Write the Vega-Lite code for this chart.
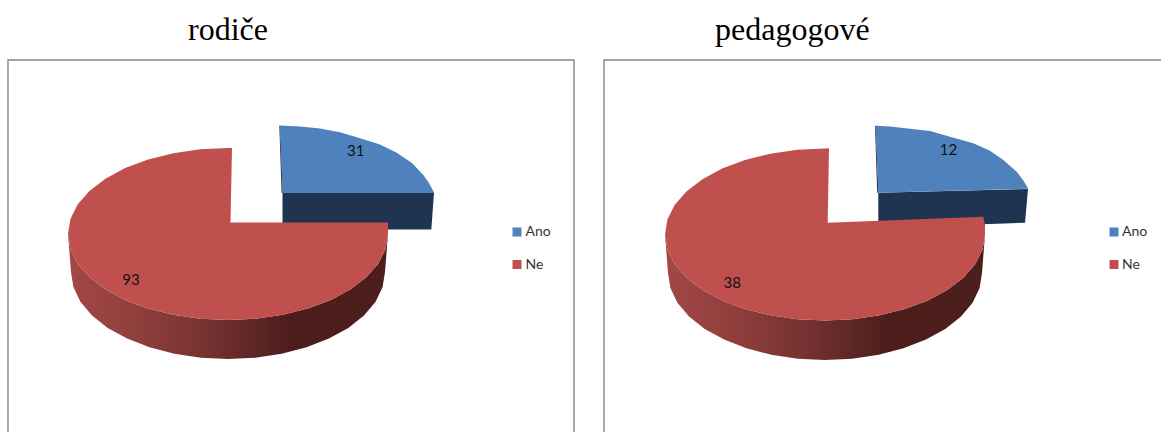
{"$schema":"https://vega.github.io/schema/vega-lite/v6.json","width":1161,"height":432,"padding":0,"autosize":{"type":"none"},"background":"white","view":{"stroke":null},
"datasets":{
"frame":[{"p":"rodiče","x":8,"y":432},{"p":"rodiče","x":8,"y":60},{"p":"rodiče","x":574,"y":60},{"p":"rodiče","x":574,"y":432},{"p":"pedagogové","x":604,"y":432},{"p":"pedagogové","x":604,"y":60},{"p":"pedagogové","x":1161,"y":60}],
"blueWall":[{"p":"rodiče","x":282.5,"y":193},{"p":"rodiče","x":434,"y":193},{"p":"rodiče","x":431.3,"y":229.5},{"p":"rodiče","x":282.5,"y":229.5},{"p":"pedagogové","x":878.3,"y":192.7},{"p":"pedagogové","x":1028,"y":189},{"p":"pedagogové","x":1025,"y":222.7},{"p":"pedagogové","x":878.3,"y":228}],
"blueTop":[{"p":"rodiče","x":282.7,"y":193},{"p":"rodiče","x":280,"y":125.5},{"p":"rodiče","x":300,"y":126.5},{"p":"rodiče","x":320,"y":128.5},{"p":"rodiče","x":340,"y":132.3},{"p":"rodiče","x":360,"y":138.3},{"p":"rodiče","x":380,"y":144.5},{"p":"rodiče","x":396.7,"y":152.7},{"p":"rodiče","x":411.7,"y":162.7},{"p":"rodiče","x":423.3,"y":175},{"p":"rodiče","x":429,"y":183},{"p":"rodiče","x":434.3,"y":193},
{"p":"pedagogové","x":878.3,"y":192.7},{"p":"pedagogové","x":875.7,"y":125.7},{"p":"pedagogové","x":890,"y":126.5},{"p":"pedagogové","x":910,"y":128.8},{"p":"pedagogové","x":930,"y":131},{"p":"pedagogové","x":950,"y":136.7},{"p":"pedagogové","x":973.3,"y":143.3},{"p":"pedagogové","x":990,"y":150.7},{"p":"pedagogové","x":1003.3,"y":160},{"p":"pedagogové","x":1016.7,"y":171.7},{"p":"pedagogové","x":1023,"y":180},{"p":"pedagogové","x":1028.3,"y":188.7}],
"sliver":[{"p":"rodiče","x":280,"y":125.5},{"p":"rodiče","x":282.7,"y":193},{"p":"rodiče","x":281.6,"y":193},{"p":"rodiče","x":279.3,"y":125.5},{"p":"pedagogové","x":875.7,"y":125.7},{"p":"pedagogové","x":878.3,"y":192.7},{"p":"pedagogové","x":877.2,"y":192.7},{"p":"pedagogové","x":875,"y":125.7}],
"redWall":[{"p":"rodiče","x":388,"y":234},{"p":"rodiče","x":385.6,"y":248.9},{"p":"rodiče","x":378.4,"y":263.4},{"p":"rodiče","x":366.6,"y":277},{"p":"rodiče","x":350.6,"y":289.3},{"p":"rodiče","x":330.9,"y":299.9},{"p":"rodiče","x":308,"y":308.5},{"p":"rodiče","x":282.7,"y":314.8},{"p":"rodiče","x":255.8,"y":318.7},{"p":"rodiče","x":228,"y":320},{"p":"rodiče","x":200.2,"y":318.7},{"p":"rodiče","x":173.3,"y":314.8},{"p":"rodiče","x":148,"y":308.5},{"p":"rodiče","x":125.1,"y":299.9},{"p":"rodiče","x":105.4,"y":289.3},{"p":"rodiče","x":89.4,"y":277},{"p":"rodiče","x":77.6,"y":263.4},{"p":"rodiče","x":70.4,"y":248.9},{"p":"rodiče","x":68,"y":234},
{"p":"rodiče","x":71,"y":272},{"p":"rodiče","x":73.4,"y":287.1},{"p":"rodiče","x":80.4,"y":301.8},{"p":"rodiče","x":92,"y":315.5},{"p":"rodiče","x":107.7,"y":327.9},{"p":"rodiče","x":127.1,"y":338.6},{"p":"rodiče","x":149.5,"y":347.3},{"p":"rodiče","x":174.3,"y":353.8},{"p":"rodiče","x":200.7,"y":357.7},{"p":"rodiče","x":228,"y":359},{"p":"rodiče","x":255.3,"y":357.7},{"p":"rodiče","x":281.7,"y":353.8},{"p":"rodiče","x":306.5,"y":347.3},{"p":"rodiče","x":328.9,"y":338.6},{"p":"rodiče","x":348.3,"y":327.9},{"p":"rodiče","x":364,"y":315.5},{"p":"rodiče","x":375.6,"y":301.8},{"p":"rodiče","x":382.6,"y":287.1},{"p":"rodiče","x":385,"y":272},
{"p":"pedagogové","x":985,"y":234.5},{"p":"pedagogové","x":982.6,"y":249.4},{"p":"pedagogové","x":975.4,"y":263.9},{"p":"pedagogové","x":963.6,"y":277.5},{"p":"pedagogové","x":947.6,"y":289.8},{"p":"pedagogové","x":927.9,"y":300.4},{"p":"pedagogové","x":905,"y":309},{"p":"pedagogové","x":879.7,"y":315.3},{"p":"pedagogové","x":852.8,"y":319.2},{"p":"pedagogové","x":825,"y":320.5},{"p":"pedagogové","x":797.2,"y":319.2},{"p":"pedagogové","x":770.3,"y":315.3},{"p":"pedagogové","x":745,"y":309},{"p":"pedagogové","x":722.1,"y":300.4},{"p":"pedagogové","x":702.4,"y":289.8},{"p":"pedagogové","x":686.4,"y":277.5},{"p":"pedagogové","x":674.6,"y":263.9},{"p":"pedagogové","x":667.4,"y":249.4},{"p":"pedagogové","x":665,"y":234.5},
{"p":"pedagogové","x":668,"y":273},{"p":"pedagogové","x":670.4,"y":288.1},{"p":"pedagogové","x":677.4,"y":302.8},{"p":"pedagogové","x":689,"y":316.5},{"p":"pedagogové","x":704.7,"y":328.9},{"p":"pedagogové","x":724.1,"y":339.6},{"p":"pedagogové","x":746.5,"y":348.3},{"p":"pedagogové","x":771.3,"y":354.8},{"p":"pedagogové","x":797.7,"y":358.7},{"p":"pedagogové","x":825,"y":360},{"p":"pedagogové","x":852.3,"y":358.7},{"p":"pedagogové","x":878.7,"y":354.8},{"p":"pedagogové","x":903.5,"y":348.3},{"p":"pedagogové","x":925.9,"y":339.6},{"p":"pedagogové","x":945.3,"y":328.9},{"p":"pedagogové","x":961,"y":316.5},{"p":"pedagogové","x":972.6,"y":302.8},{"p":"pedagogové","x":979.6,"y":288.1},{"p":"pedagogové","x":982,"y":273}],
"redTop":[{"p":"rodiče","x":230.5,"y":222.5},{"p":"rodiče","x":388,"y":222.5},{"p":"rodiče","x":388,"y":234},{"p":"rodiče","x":385.6,"y":248.9},{"p":"rodiče","x":378.4,"y":263.4},{"p":"rodiče","x":366.6,"y":277},{"p":"rodiče","x":350.6,"y":289.3},{"p":"rodiče","x":330.9,"y":299.9},{"p":"rodiče","x":308,"y":308.5},{"p":"rodiče","x":282.7,"y":314.8},{"p":"rodiče","x":255.8,"y":318.7},{"p":"rodiče","x":228,"y":320},{"p":"rodiče","x":200.2,"y":318.7},{"p":"rodiče","x":173.3,"y":314.8},{"p":"rodiče","x":148,"y":308.5},{"p":"rodiče","x":125.1,"y":299.9},{"p":"rodiče","x":105.4,"y":289.3},{"p":"rodiče","x":89.4,"y":277},{"p":"rodiče","x":77.6,"y":263.4},{"p":"rodiče","x":70.4,"y":248.9},{"p":"rodiče","x":68,"y":234},{"p":"rodiče","x":70.4,"y":219.1},{"p":"rodiče","x":77.6,"y":204.6},{"p":"rodiče","x":89.4,"y":191},{"p":"rodiče","x":105.4,"y":178.7},{"p":"rodiče","x":125.1,"y":168.1},{"p":"rodiče","x":148,"y":159.5},{"p":"rodiče","x":173.3,"y":153.2},{"p":"rodiče","x":200.2,"y":149.3},{"p":"rodiče","x":228,"y":148},{"p":"rodiče","x":232,"y":148},
{"p":"pedagogové","x":827.7,"y":222.7},{"p":"pedagogové","x":983.3,"y":216.7},{"p":"pedagogové","x":985,"y":225},{"p":"pedagogové","x":985,"y":234.5},{"p":"pedagogové","x":982.6,"y":249.4},{"p":"pedagogové","x":975.4,"y":263.9},{"p":"pedagogové","x":963.6,"y":277.5},{"p":"pedagogové","x":947.6,"y":289.8},{"p":"pedagogové","x":927.9,"y":300.4},{"p":"pedagogové","x":905,"y":309},{"p":"pedagogové","x":879.7,"y":315.3},{"p":"pedagogové","x":852.8,"y":319.2},{"p":"pedagogové","x":825,"y":320.5},{"p":"pedagogové","x":797.2,"y":319.2},{"p":"pedagogové","x":770.3,"y":315.3},{"p":"pedagogové","x":745,"y":309},{"p":"pedagogové","x":722.1,"y":300.4},{"p":"pedagogové","x":702.4,"y":289.8},{"p":"pedagogové","x":686.4,"y":277.5},{"p":"pedagogové","x":674.6,"y":263.9},{"p":"pedagogové","x":667.4,"y":249.4},{"p":"pedagogové","x":665,"y":234.5},{"p":"pedagogové","x":667.4,"y":219.6},{"p":"pedagogové","x":674.6,"y":205.1},{"p":"pedagogové","x":686.4,"y":191.5},{"p":"pedagogové","x":702.4,"y":179.2},{"p":"pedagogové","x":722.1,"y":168.6},{"p":"pedagogové","x":745,"y":160},{"p":"pedagogové","x":770.3,"y":153.7},{"p":"pedagogové","x":797.2,"y":149.8},{"p":"pedagogové","x":825,"y":148.5},{"p":"pedagogové","x":829,"y":148.3}],
"values":[{"p":"rodiče","answer":"Ano","value":31,"x":355.7,"y":151},{"p":"rodiče","answer":"Ne","value":93,"x":131,"y":280},{"p":"pedagogové","answer":"Ano","value":12,"x":948.5,"y":150},{"p":"pedagogové","answer":"Ne","value":38,"x":732.3,"y":283}],
"legend":[{"p":"rodiče","answer":"Ano","x":517,"y":232,"tx":525.5},{"p":"rodiče","answer":"Ne","x":517,"y":264.5,"tx":525.5},{"p":"pedagogové","answer":"Ano","x":1114,"y":232,"tx":1122},{"p":"pedagogové","answer":"Ne","x":1114,"y":264.5,"tx":1122}],
"titles":[{"p":"rodiče","x":188,"y":40},{"p":"pedagogové","x":715,"y":40}]
},
"encoding":{
"x":{"field":"x","type":"quantitative","scale":{"domain":[0,1161],"nice":false,"zero":false},"axis":null},
"y":{"field":"y","type":"quantitative","scale":{"domain":[432,0],"nice":false,"zero":false},"axis":null}
},
"layer":[
{"data":{"name":"frame"},"transform":[{"window":[{"op":"row_number","as":"i"}],"groupby":["p"]}],"mark":{"type":"line","stroke":"#868686","strokeWidth":1.4,"clip":true},"encoding":{"detail":{"field":"p"},"order":{"field":"i","type":"quantitative"}}},
{"data":{"name":"blueWall"},"transform":[{"window":[{"op":"row_number","as":"i"}],"groupby":["p"]}],"mark":{"type":"line","fill":"#1f3450","strokeWidth":0},"encoding":{"detail":{"field":"p"},"order":{"field":"i","type":"quantitative"}}},
{"data":{"name":"blueTop"},"transform":[{"window":[{"op":"row_number","as":"i"}],"groupby":["p"]}],"mark":{"type":"line","fill":"#4f81bd","strokeWidth":0},"encoding":{"detail":{"field":"p"},"order":{"field":"i","type":"quantitative"}}},
{"data":{"name":"sliver"},"transform":[{"window":[{"op":"row_number","as":"i"}],"groupby":["p"]}],"mark":{"type":"line","fill":"#1f3450","strokeWidth":0},"encoding":{"detail":{"field":"p"},"order":{"field":"i","type":"quantitative"}}},
{"data":{"name":"redWall"},"transform":[{"window":[{"op":"row_number","as":"i"}],"groupby":["p"]}],"mark":{"type":"line","strokeWidth":0,"fill":{"gradient":"linear","x1":0,"y1":0,"x2":1,"y2":0,"stops":[{"offset":0,"color":"#a34847"},{"offset":0.25,"color":"#8c3d3b"},{"offset":0.45,"color":"#723130"},{"offset":0.7,"color":"#4c1d1b"},{"offset":1,"color":"#4c1e1c"}]}},"encoding":{"detail":{"field":"p"},"order":{"field":"i","type":"quantitative"}}},
{"data":{"name":"redTop"},"transform":[{"window":[{"op":"row_number","as":"i"}],"groupby":["p"]}],"mark":{"type":"line","fill":"#c0504d","strokeWidth":0},"encoding":{"detail":{"field":"p"},"order":{"field":"i","type":"quantitative"}}},
{"data":{"name":"values"},"mark":{"type":"text","font":"Lato","fontSize":15,"color":"#111111","align":"center","baseline":"middle"},"encoding":{"text":{"field":"value","type":"quantitative"}}},
{"data":{"name":"legend"},"mark":{"type":"square","size":81,"opacity":1},"encoding":{"color":{"field":"answer","type":"nominal","scale":{"domain":["Ano","Ne"],"range":["#4f81bd","#c0504d"]},"legend":null}}},
{"data":{"name":"legend"},"mark":{"type":"text","font":"Lato","fontSize":14,"color":"#333333","align":"left","baseline":"middle"},"encoding":{"x":{"field":"tx","type":"quantitative"},"text":{"field":"answer","type":"nominal"}}},
{"data":{"name":"titles"},"mark":{"type":"text","font":"Liberation Serif","fontSize":32,"color":"#000000","align":"left","baseline":"alphabetic"},"encoding":{"text":{"field":"p","type":"nominal"}}}
]}
